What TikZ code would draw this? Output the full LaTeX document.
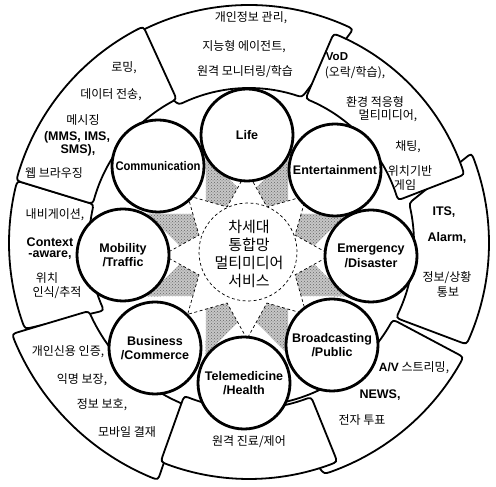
\documentclass[tikz,border=0pt]{standalone}
\usepackage{fontspec}
\setmainfont{Liberation Sans}
\newfontfamily\kr{Noto Sans CJK KR}
\usetikzlibrary{calc,patterns}

% rounded annular sector: inner lo, inner hi, outer lo, outer hi, r inner, r outer
\newcommand{\RBox}[6]{%
 \pgfmathsetmacro{\rbdA}{8/#5*57.2958}%
 \pgfmathsetmacro{\rbdB}{8/#6*57.2958}%
 \pgfmathsetmacro{\rbsA}{#1+\rbdA}%
 \pgfmathsetmacro{\rbeA}{#2-\rbdA}%
 \pgfmathsetmacro{\rbsB}{#3+\rbdB}%
 \pgfmathsetmacro{\rbeB}{#4-\rbdB}%
 \coordinate (p1) at ($(C)+(#1:#5)$);
 \coordinate (p2) at ($(C)+(#2:#5)$);
 \coordinate (p3) at ($(C)+(#4:#6)$);
 \coordinate (p4) at ($(C)+(#3:#6)$);
 \draw[card] ($(C)+(\rbsA:#5)$) arc[start angle=\rbsA, end angle=\rbeA, radius=#5pt]
   .. controls (p2) .. ($(p2)!8pt!(p3)$) -- ($(p3)!8pt!(p2)$)
   .. controls (p3) .. ($(C)+(\rbeB:#6)$) arc[start angle=\rbeB, end angle=\rbsB, radius=#6pt]
   .. controls (p4) .. ($(p4)!8pt!(p1)$) -- ($(p1)!8pt!(p4)$)
   .. controls (p1) .. ($(C)+(\rbsA:#5)$) -- cycle;
}

\begin{document}
\begin{tikzpicture}[x=1pt,y=1pt,
  card/.style={draw=black, line width=1.8pt, fill=white, line join=round},
  circ/.style={circle, draw=black, line width=2.8pt, fill=white, minimum size=92pt, inner sep=0pt, align=center, font=\fontsize{12.5}{14.5}\selectfont\bfseries},
  ktext/.style={font=\kr\fontsize{12}{14}\selectfont, inner sep=0pt},
  btext/.style={font=\fontsize{12.5}{14}\selectfont\bfseries, inner sep=0pt},
  hubline/.style={dashed, line width=0.7pt, dash pattern=on 3pt off 2.5pt}]
\useasboundingbox (0,0) rectangle (496,487);
\coordinate (C) at (249,244);
\coordinate (S) at (247,232);

% outer cards (drawing order gives the overlaps)
\RBox{70}{117}{64}{124}{155}{238}      % Life
\RBox{166}{205}{165}{201}{160}{240}    % Mobility
\RBox{-82}{-28}{-72}{-28}{163}{243}    % Broadcasting
\RBox{-27}{14}{-25}{22}{165}{240}      % Emergency
\RBox{116.7}{166}{116}{165}{161}{241}  % Communication
\RBox{16}{68.6}{17.6}{68}{155}{226}    % Entertainment
\RBox{-157}{-112}{-159}{-111}{174}{254}% Business
\RBox{-113}{-68}{-112}{-68}{166}{236}  % Telemedicine

% hub: grey star between the circles
\path[preaction={fill=gray!45}, pattern=crosshatch dots, pattern color=black!60]
  ($(S)+(22.5:108)$) \foreach \a/\b in {45/67.5,90/112.5,135/157.5,180/202.5,225/247.5,270/292.5,315/337.5,360/382.5} { -- ($(S)+(\a:58)$) -- ($(S)+(\b:108)$) } -- cycle;
% white star pointing at the circles
\draw[hubline, fill=white]
  ($(S)+(0:84)$) \foreach \a/\b in {22.5/45,67.5/90,112.5/135,157.5/180,202.5/225,247.5/270,292.5/315,337.5/360} { -- ($(S)+(\a:52)$) -- ($(S)+(\b:84)$) } -- cycle;
\node[circle, draw=black, hubline, fill=white, minimum size=98pt, inner sep=0pt] (hub) at (248,235) {};
\node[font=\kr\fontsize{15}{18}\selectfont, align=center, inner sep=0pt] (hubtext) at (249,233) {차세대\\통합망\\멀티미디어\\서비스};

% the eight service circles
\node[circ] (life) at (247,352) {Life};
\node[circ] (ent) at (335,317) {Entertainment};
\node[circ] (emer) at (371,231) {Emergency\\/Disaster};
\node[circ] (broad) at (332,142) {Broadcasting\\/Public};
\node[circ] (tele) at (244,104) {Telemedicine\\/Health};
\node[circ] (bus) at (155,139) {Business\\/Commerce};
\node[circ] (mob) at (123,232) {Mobility\\/Traffic};
\node[circ] (comm) at (158,321) {\scalebox{0.9}[1]{Communication}};

% Life
\node[ktext] (l1) at (251,469) {개인정보 관리,};
\node[ktext] (l2) at (244,440) {지능형 에이전트,};
\node[ktext] (l3) at (245,415) {원격 모니터링/학습};
% Communication
\node[ktext] (c1) at (124,419) {로밍,};
\node[ktext] (c2) at (111,392) {데이터 전송,};
\node[ktext] (c3) at (83,367) {메시징};
\node[btext] (c4) at (77,350) {(MMS, IMS,};
\node[btext] (c5) at (78,337) {SMS),};
\node[ktext] (c6) at (54,314) {웹 브라우징};
% Entertainment
\node[btext, font=\fontsize{11.5}{13}\selectfont\bfseries] (e1) at (337,430) {VoD};
\node[ktext] (e2) at (355,414) {(오락/학습),};
\node[ktext] (e3) at (375,385) {환경 적응형};
\node[ktext] (e4) at (388,371) {멀티미디어,};
\node[ktext] (e5) at (408,340) {채팅,};
\node[ktext] (e6) at (410,316) {위치기반};
\node[ktext] (e7) at (405,302) {게임};
% Emergency
\node[btext] (m1) at (444,275) {ITS,};
\node[btext] (m2) at (447,249) {Alarm,};
\node[ktext] (m3) at (447,209) {정보/상황};
\node[ktext] (m4) at (448,195) {통보};
% Broadcasting
\node[ktext] (b1) at (414,119) {{\rmfamily\bfseries A/V} 스트리밍,};
\node[btext] (b2) at (380,92) {NEWS,};
\node[ktext] (b3) at (362,67) {전자 투표};
% Telemedicine
\node[ktext] (h1) at (249,45) {원격 진료/제어};
% Business
\node[ktext] (s1) at (68,135) {개인신용 인증,};
\node[ktext] (s2) at (82,107) {익명 보장,};
\node[ktext] (s3) at (102,82) {정보 보호,};
\node[ktext] (s4) at (127,55) {모바일 결재};
% Mobility
\node[ktext] (o1) at (55,272) {내비게이션,};
\node[btext] (o2) at (50,245) {Context};
\node[btext] (o3) at (50,232) {-aware,};
\node[ktext] (o4) at (47,209) {위치};
\node[ktext] (o5) at (57,194) {인식/추적};
\end{tikzpicture}
\end{document}
